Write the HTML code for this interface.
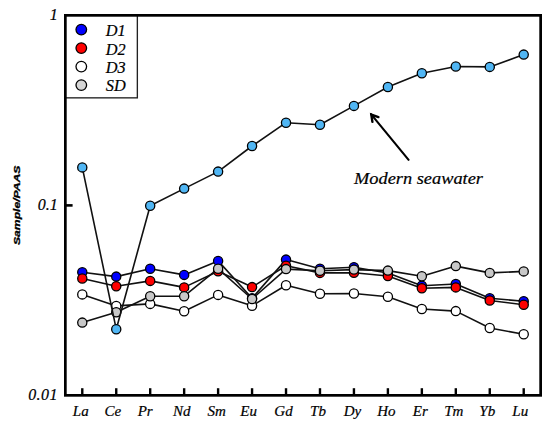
<!DOCTYPE html>
<html><head><meta charset="utf-8"><style>
html,body{margin:0;padding:0;background:#fff;}
body{width:550px;height:428px;overflow:hidden;}
svg{display:block;}
.it{font-family:"Liberation Serif",serif;font-style:italic;fill:#000;stroke:#000;stroke-width:0.2px;}
</style></head><body>
<svg width="550" height="428" viewBox="0 0 550 428">
<rect x="0" y="0" width="550" height="428" fill="#fff"/>
<!-- legend box -->
<rect x="65.3" y="15.3" width="72.05" height="82.55" fill="#fff" stroke="#222" stroke-width="1.35"/>
<polyline points="82.28,272.30 116.24,276.60 150.19,268.70 184.15,274.90 218.11,260.90 252.06,298.20 286.02,259.60 319.98,268.70 353.94,267.20 387.89,273.00 421.85,285.70 455.81,284.00 489.76,298.30 523.72,301.20" fill="none" stroke="#111" stroke-width="1.6" stroke-linejoin="round"/>
<circle cx="82.28" cy="272.30" r="4.6" fill="#0000ff" stroke="#000" stroke-width="1.3"/>
<circle cx="116.24" cy="276.60" r="4.6" fill="#0000ff" stroke="#000" stroke-width="1.3"/>
<circle cx="150.19" cy="268.70" r="4.6" fill="#0000ff" stroke="#000" stroke-width="1.3"/>
<circle cx="184.15" cy="274.90" r="4.6" fill="#0000ff" stroke="#000" stroke-width="1.3"/>
<circle cx="218.11" cy="260.90" r="4.6" fill="#0000ff" stroke="#000" stroke-width="1.3"/>
<circle cx="252.06" cy="298.20" r="4.6" fill="#0000ff" stroke="#000" stroke-width="1.3"/>
<circle cx="286.02" cy="259.60" r="4.6" fill="#0000ff" stroke="#000" stroke-width="1.3"/>
<circle cx="319.98" cy="268.70" r="4.6" fill="#0000ff" stroke="#000" stroke-width="1.3"/>
<circle cx="353.94" cy="267.20" r="4.6" fill="#0000ff" stroke="#000" stroke-width="1.3"/>
<circle cx="387.89" cy="273.00" r="4.6" fill="#0000ff" stroke="#000" stroke-width="1.3"/>
<circle cx="421.85" cy="285.70" r="4.6" fill="#0000ff" stroke="#000" stroke-width="1.3"/>
<circle cx="455.81" cy="284.00" r="4.6" fill="#0000ff" stroke="#000" stroke-width="1.3"/>
<circle cx="489.76" cy="298.30" r="4.6" fill="#0000ff" stroke="#000" stroke-width="1.3"/>
<circle cx="523.72" cy="301.20" r="4.6" fill="#0000ff" stroke="#000" stroke-width="1.3"/>
<polyline points="82.28,278.50 116.24,286.20 150.19,280.90 184.15,287.40 218.11,271.30 252.06,287.10 286.02,265.70 319.98,272.90 353.94,272.70 387.89,276.00 421.85,288.20 455.81,287.40 489.76,300.50 523.72,304.80" fill="none" stroke="#111" stroke-width="1.6" stroke-linejoin="round"/>
<circle cx="82.28" cy="278.50" r="4.6" fill="#ff0000" stroke="#000" stroke-width="1.3"/>
<circle cx="116.24" cy="286.20" r="4.6" fill="#ff0000" stroke="#000" stroke-width="1.3"/>
<circle cx="150.19" cy="280.90" r="4.6" fill="#ff0000" stroke="#000" stroke-width="1.3"/>
<circle cx="184.15" cy="287.40" r="4.6" fill="#ff0000" stroke="#000" stroke-width="1.3"/>
<circle cx="218.11" cy="271.30" r="4.6" fill="#ff0000" stroke="#000" stroke-width="1.3"/>
<circle cx="252.06" cy="287.10" r="4.6" fill="#ff0000" stroke="#000" stroke-width="1.3"/>
<circle cx="286.02" cy="265.70" r="4.6" fill="#ff0000" stroke="#000" stroke-width="1.3"/>
<circle cx="319.98" cy="272.90" r="4.6" fill="#ff0000" stroke="#000" stroke-width="1.3"/>
<circle cx="353.94" cy="272.70" r="4.6" fill="#ff0000" stroke="#000" stroke-width="1.3"/>
<circle cx="387.89" cy="276.00" r="4.6" fill="#ff0000" stroke="#000" stroke-width="1.3"/>
<circle cx="421.85" cy="288.20" r="4.6" fill="#ff0000" stroke="#000" stroke-width="1.3"/>
<circle cx="455.81" cy="287.40" r="4.6" fill="#ff0000" stroke="#000" stroke-width="1.3"/>
<circle cx="489.76" cy="300.50" r="4.6" fill="#ff0000" stroke="#000" stroke-width="1.3"/>
<circle cx="523.72" cy="304.80" r="4.6" fill="#ff0000" stroke="#000" stroke-width="1.3"/>
<polyline points="82.28,294.40 116.24,305.90 150.19,303.90 184.15,311.30 218.11,294.90 252.06,305.80 286.02,285.30 319.98,293.80 353.94,293.50 387.89,296.70 421.85,309.00 455.81,311.10 489.76,328.00 523.72,334.30" fill="none" stroke="#111" stroke-width="1.6" stroke-linejoin="round"/>
<circle cx="82.28" cy="294.40" r="4.6" fill="#ffffff" stroke="#000" stroke-width="1.3"/>
<circle cx="116.24" cy="305.90" r="4.6" fill="#ffffff" stroke="#000" stroke-width="1.3"/>
<circle cx="150.19" cy="303.90" r="4.6" fill="#ffffff" stroke="#000" stroke-width="1.3"/>
<circle cx="184.15" cy="311.30" r="4.6" fill="#ffffff" stroke="#000" stroke-width="1.3"/>
<circle cx="218.11" cy="294.90" r="4.6" fill="#ffffff" stroke="#000" stroke-width="1.3"/>
<circle cx="252.06" cy="305.80" r="4.6" fill="#ffffff" stroke="#000" stroke-width="1.3"/>
<circle cx="286.02" cy="285.30" r="4.6" fill="#ffffff" stroke="#000" stroke-width="1.3"/>
<circle cx="319.98" cy="293.80" r="4.6" fill="#ffffff" stroke="#000" stroke-width="1.3"/>
<circle cx="353.94" cy="293.50" r="4.6" fill="#ffffff" stroke="#000" stroke-width="1.3"/>
<circle cx="387.89" cy="296.70" r="4.6" fill="#ffffff" stroke="#000" stroke-width="1.3"/>
<circle cx="421.85" cy="309.00" r="4.6" fill="#ffffff" stroke="#000" stroke-width="1.3"/>
<circle cx="455.81" cy="311.10" r="4.6" fill="#ffffff" stroke="#000" stroke-width="1.3"/>
<circle cx="489.76" cy="328.00" r="4.6" fill="#ffffff" stroke="#000" stroke-width="1.3"/>
<circle cx="523.72" cy="334.30" r="4.6" fill="#ffffff" stroke="#000" stroke-width="1.3"/>
<polyline points="82.28,322.60 116.24,312.20 150.19,296.30 184.15,296.20 218.11,268.70 252.06,299.00 286.02,269.10 319.98,270.80 353.94,269.60 387.89,270.60 421.85,276.30 455.81,266.10 489.76,272.90 523.72,271.40" fill="none" stroke="#111" stroke-width="1.6" stroke-linejoin="round"/>
<circle cx="82.28" cy="322.60" r="4.6" fill="#c8c8c8" stroke="#000" stroke-width="1.3"/>
<circle cx="116.24" cy="312.20" r="4.6" fill="#c8c8c8" stroke="#000" stroke-width="1.3"/>
<circle cx="150.19" cy="296.30" r="4.6" fill="#c8c8c8" stroke="#000" stroke-width="1.3"/>
<circle cx="184.15" cy="296.20" r="4.6" fill="#c8c8c8" stroke="#000" stroke-width="1.3"/>
<circle cx="218.11" cy="268.70" r="4.6" fill="#c8c8c8" stroke="#000" stroke-width="1.3"/>
<circle cx="252.06" cy="299.00" r="4.6" fill="#c8c8c8" stroke="#000" stroke-width="1.3"/>
<circle cx="286.02" cy="269.10" r="4.6" fill="#c8c8c8" stroke="#000" stroke-width="1.3"/>
<circle cx="319.98" cy="270.80" r="4.6" fill="#c8c8c8" stroke="#000" stroke-width="1.3"/>
<circle cx="353.94" cy="269.60" r="4.6" fill="#c8c8c8" stroke="#000" stroke-width="1.3"/>
<circle cx="387.89" cy="270.60" r="4.6" fill="#c8c8c8" stroke="#000" stroke-width="1.3"/>
<circle cx="421.85" cy="276.30" r="4.6" fill="#c8c8c8" stroke="#000" stroke-width="1.3"/>
<circle cx="455.81" cy="266.10" r="4.6" fill="#c8c8c8" stroke="#000" stroke-width="1.3"/>
<circle cx="489.76" cy="272.90" r="4.6" fill="#c8c8c8" stroke="#000" stroke-width="1.3"/>
<circle cx="523.72" cy="271.40" r="4.6" fill="#c8c8c8" stroke="#000" stroke-width="1.3"/>
<polyline points="82.28,167.40 116.24,329.20 150.19,205.70 184.15,188.60 218.11,171.60 252.06,146.00 286.02,122.70 319.98,124.80 353.94,105.90 387.89,87.00 421.85,73.20 455.81,66.50 489.76,66.90 523.72,54.60" fill="none" stroke="#111" stroke-width="1.6" stroke-linejoin="round"/>
<circle cx="82.28" cy="167.40" r="4.6" fill="#50b6f4" stroke="#000" stroke-width="1.3"/>
<circle cx="116.24" cy="329.20" r="4.6" fill="#50b6f4" stroke="#000" stroke-width="1.3"/>
<circle cx="150.19" cy="205.70" r="4.6" fill="#50b6f4" stroke="#000" stroke-width="1.3"/>
<circle cx="184.15" cy="188.60" r="4.6" fill="#50b6f4" stroke="#000" stroke-width="1.3"/>
<circle cx="218.11" cy="171.60" r="4.6" fill="#50b6f4" stroke="#000" stroke-width="1.3"/>
<circle cx="252.06" cy="146.00" r="4.6" fill="#50b6f4" stroke="#000" stroke-width="1.3"/>
<circle cx="286.02" cy="122.70" r="4.6" fill="#50b6f4" stroke="#000" stroke-width="1.3"/>
<circle cx="319.98" cy="124.80" r="4.6" fill="#50b6f4" stroke="#000" stroke-width="1.3"/>
<circle cx="353.94" cy="105.90" r="4.6" fill="#50b6f4" stroke="#000" stroke-width="1.3"/>
<circle cx="387.89" cy="87.00" r="4.6" fill="#50b6f4" stroke="#000" stroke-width="1.3"/>
<circle cx="421.85" cy="73.20" r="4.6" fill="#50b6f4" stroke="#000" stroke-width="1.3"/>
<circle cx="455.81" cy="66.50" r="4.6" fill="#50b6f4" stroke="#000" stroke-width="1.3"/>
<circle cx="489.76" cy="66.90" r="4.6" fill="#50b6f4" stroke="#000" stroke-width="1.3"/>
<circle cx="523.72" cy="54.60" r="4.6" fill="#50b6f4" stroke="#000" stroke-width="1.3"/>
<!-- frame -->
<rect x="65.35" y="15.35" width="475.3" height="380" fill="none" stroke="#000" stroke-width="2.7"/>
<line x1="82.28" y1="395" x2="82.28" y2="388.2" stroke="#000" stroke-width="2.4"/>
<line x1="116.24" y1="395" x2="116.24" y2="388.2" stroke="#000" stroke-width="2.4"/>
<line x1="150.19" y1="395" x2="150.19" y2="388.2" stroke="#000" stroke-width="2.4"/>
<line x1="184.15" y1="395" x2="184.15" y2="388.2" stroke="#000" stroke-width="2.4"/>
<line x1="218.11" y1="395" x2="218.11" y2="388.2" stroke="#000" stroke-width="2.4"/>
<line x1="252.06" y1="395" x2="252.06" y2="388.2" stroke="#000" stroke-width="2.4"/>
<line x1="286.02" y1="395" x2="286.02" y2="388.2" stroke="#000" stroke-width="2.4"/>
<line x1="319.98" y1="395" x2="319.98" y2="388.2" stroke="#000" stroke-width="2.4"/>
<line x1="353.94" y1="395" x2="353.94" y2="388.2" stroke="#000" stroke-width="2.4"/>
<line x1="387.89" y1="395" x2="387.89" y2="388.2" stroke="#000" stroke-width="2.4"/>
<line x1="421.85" y1="395" x2="421.85" y2="388.2" stroke="#000" stroke-width="2.4"/>
<line x1="455.81" y1="395" x2="455.81" y2="388.2" stroke="#000" stroke-width="2.4"/>
<line x1="489.76" y1="395" x2="489.76" y2="388.2" stroke="#000" stroke-width="2.4"/>
<line x1="523.72" y1="395" x2="523.72" y2="388.2" stroke="#000" stroke-width="2.4"/>
<line x1="65" y1="205.4" x2="72.6" y2="205.4" stroke="#000" stroke-width="2.6"/>
<!-- legend -->
<circle cx="81.3" cy="29.6" r="5.3" fill="#0000ff" stroke="#000" stroke-width="1.3"/>
<circle cx="81.3" cy="48.1" r="5.3" fill="#ff0000" stroke="#000" stroke-width="1.3"/>
<circle cx="81.3" cy="66.6" r="5.3" fill="#ffffff" stroke="#000" stroke-width="1.3"/>
<circle cx="81.3" cy="85.1" r="5.3" fill="#d6d6d6" stroke="#000" stroke-width="1.3"/>
<g class="it" font-size="16.3">
<text x="105.8" y="36.3">D1</text>
<text x="105.8" y="54.7">D2</text>
<text x="105.8" y="73.0">D3</text>
<text x="105.8" y="91.3">SD</text>
</g>
<!-- y labels -->
<g class="it" font-size="16" text-anchor="end">
<text x="57.8" y="19.5">1</text>
<text x="57.8" y="209.8">0.1</text>
<text x="57.8" y="400.1" letter-spacing="0.4">0.01</text>
</g>
<!-- x labels -->
<g class="it" font-size="15">
<text x="80.78" y="416" text-anchor="middle">La</text>
<text x="112.74" y="416" text-anchor="middle">Ce</text>
<text x="145.19" y="416" text-anchor="middle">Pr</text>
<text x="181.65" y="416" text-anchor="middle">Nd</text>
<text x="216.61" y="416" text-anchor="middle">Sm</text>
<text x="248.56" y="416" text-anchor="middle">Eu</text>
<text x="283.52" y="416" text-anchor="middle">Gd</text>
<text x="317.98" y="416" text-anchor="middle">Tb</text>
<text x="352.44" y="416" text-anchor="middle">Dy</text>
<text x="386.39" y="416" text-anchor="middle">Ho</text>
<text x="420.35" y="416" text-anchor="middle">Er</text>
<text x="453.81" y="416" text-anchor="middle">Tm</text>
<text x="487.26" y="416" text-anchor="middle">Yb</text>
<text x="520.22" y="416" text-anchor="middle">Lu</text>
</g>
<!-- y title -->
<text transform="translate(20.4,205.3) rotate(-90)" text-anchor="middle" font-family="Liberation Sans, sans-serif" font-weight="bold" font-style="italic" font-size="9.3" textLength="79.5" lengthAdjust="spacingAndGlyphs" fill="#000" stroke="#000" stroke-width="0.3">Sample/PAAS</text>
<!-- annotation -->
<text class="it" x="354" y="184" font-size="16.5" textLength="129" lengthAdjust="spacingAndGlyphs">Modern seawater</text>
<line x1="408.6" y1="159.8" x2="371" y2="114.2" stroke="#000" stroke-width="2.1" stroke-linecap="round"/>
<polyline points="372.4,121.9 371.3,114.6 378.4,117.1" fill="none" stroke="#000" stroke-width="2.4" stroke-linecap="round" stroke-linejoin="miter"/>
</svg>
</body></html>
